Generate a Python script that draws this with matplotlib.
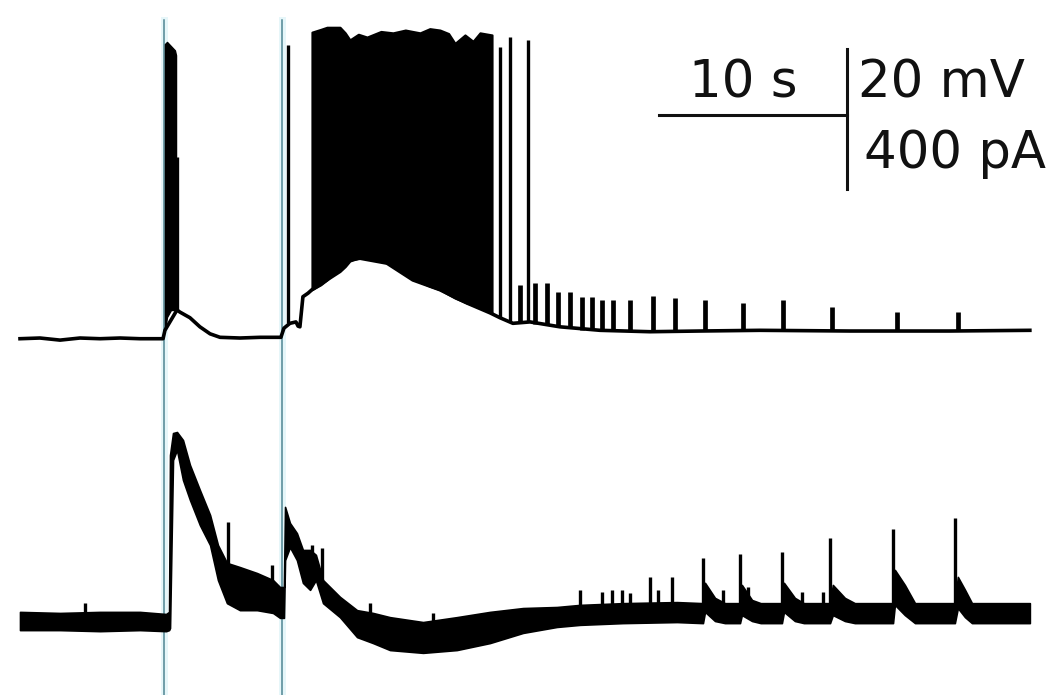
import matplotlib
matplotlib.use("Agg")
import matplotlib.pyplot as plt

# ---------------- data ----------------
# stimulus markers (s)
marker_t = [7.66, 13.94]

# membrane potential: slow trace (s, mV)
vm_t = [0, 1.06, 2.13, 3.19, 4.26, 5.32, 6.38, 7.61, 7.71, 8.35, 8.51, 9.04, 9.57,
        10.11, 10.64, 11.70, 12.77, 13.88, 14.04, 14.36, 14.68, 14.79, 14.89, 15.05,
        15.32, 15.53, 16.33, 17.39, 18.09, 19.52, 20.90, 22.34, 23.78, 25.00, 25.53,
        26.22, 27.13, 28.72, 30.85, 33.51, 36.17, 39.36, 44.15, 49.47, 53.72]
vm_v = [-60.1, -60.0, -60.3, -60.0, -60.1, -60.0, -60.1, -60.1, -58.9, -56.0, -56.3,
        -57.1, -58.4, -59.4, -59.9, -60.0, -59.9, -59.9, -58.6, -57.9, -57.7, -58.3,
        -58.4, -54.1, -53.6, -53.1, -51.7, -48.9, -48.6, -49.3, -51.7, -53.1, -55.0,
        -56.4, -57.1, -57.9, -57.7, -58.4, -58.9, -59.1, -59.0, -58.9, -59.0, -59.0, -58.9]

# first burst (envelope of spikes)
burst_t = [7.71, 7.82, 8.03, 8.24, 8.30]
burst_hi = [-18.0, -17.7, -18.3, -18.9, -19.6]
burst_lo = [-58.9, -57.0, -56.0, -56.0, -56.0]

# sustained firing (envelope of spikes)
train_t = [15.53, 16.00, 16.33, 17.02, 17.30, 17.55, 18.00, 18.46, 19.20, 19.84, 20.50,
           21.28, 21.80, 22.34, 22.80, 23.14, 23.67, 24.10, 24.47, 25.11]
train_hi = [-16.3, -15.9, -15.6, -15.6, -16.4, -17.4, -16.6, -17.0, -16.2, -16.4, -16.0,
            -16.4, -15.8, -16.0, -16.5, -17.9, -16.7, -17.6, -16.4, -16.7]
train_lo = [-53.1, -52.4, -51.7, -50.5, -49.8, -49.0, -48.6, -48.6, -49.0, -49.6, -50.8,
            -52.0, -52.6, -53.1, -53.8, -54.3, -54.9, -55.3, -55.7, -56.4]

# isolated action potentials
ap_t = [8.35, 14.26, 25.53, 26.06, 27.02]
ap_base = [-56.0, -57.8, -57.1, -57.6, -57.7]
ap_peak = [-34.1, -18.1, -18.4, -17.0, -17.4]

# small (subthreshold) events on the voltage trace
ev_t = [26.60, 27.39, 28.03, 28.62, 29.26, 29.89, 30.43, 30.96, 31.54, 32.45,
        33.67, 34.84, 36.44, 38.46, 40.59, 43.19, 46.65, 49.89]
ev_base = [-57.9, -58.0, -58.2, -58.4, -58.6, -58.8, -58.8, -58.9, -58.9, -59.0,
           -59.1, -59.1, -59.0, -58.9, -58.9, -59.0, -59.0, -59.0]
ev_peak = [-52.4, -52.1, -52.1, -53.4, -53.4, -54.1, -54.1, -54.6, -54.6, -54.6,
           -54.0, -54.3, -54.6, -55.0, -54.6, -55.6, -56.3, -56.3]

# current trace: noisy band (s, pA)
im_t = [0, 2.13, 4.26, 6.38, 7.77, 7.93, 7.98, 8.14, 8.35, 8.67, 9.04, 9.57, 10.11,
        10.53, 11.01, 11.70, 12.61, 13.46, 13.83, 14.04, 14.10, 14.36, 14.73, 15.05,
        15.43, 15.74, 16.12, 17.02, 17.93, 18.78, 19.68, 21.44, 23.24, 25.00, 26.76,
        28.56, 29.79, 32.07, 34.95, 36.33, 36.44, 36.97, 37.50, 38.30, 38.40, 38.94,
        39.40, 40.53, 40.64, 41.22, 41.70, 43.09, 43.24, 43.88, 44.41, 46.44, 46.54,
        47.07, 47.61, 49.73, 49.89, 50.27, 50.64, 53.72]
im_hi = [26, 23, 26, 26, 20, 26, 474, 537, 540, 517, 446, 374, 303,
         217, 166, 154, 137, 117, 97, 97, 326, 280, 251, 203,
         203, 189, 117, 69, 31, 23, 11, -3, 11, 26, 37,
         40, 46, 51, 54, 51, 109, 66, 51, 51, 103, 60,
         51, 51, 109, 66, 51, 51, 103, 66, 51, 51, 146,
         103, 51, 51, 126, 89, 51, 51]
im_lo = [-26, -26, -29, -26, -29, -26, -20, 460, 489, 403, 346, 274, 217,
         117, 51, 31, 31, 23, 9, 9, 174, 211, 174, 109,
         89, 117, 51, 11, -46, -63, -83, -91, -83, -63, -34,
         -17, -11, -6, -3, -6, 26, 0, -6, -6, 17, 0,
         -6, -6, 26, 0, -6, -6, 17, 0, -6, -6, 46,
         17, -6, -6, 37, 11, -6, -6]

# fast transients on the current trace
isp_t = [3.46, 11.06, 13.40, 15.53, 16.06, 18.62, 21.97, 29.79, 30.96, 31.49, 32.02,
         32.45, 33.51, 33.94, 34.68, 36.33, 37.39, 38.30, 38.72, 40.53, 41.60, 42.71,
         43.09, 46.44, 49.73]
isp_base = [20, 160, 110, 150, 110, 20, 0, 40, 40, 40, 40,
            40, 45, 45, 45, 50, 50, 50, 50, 50, 50, 50,
            50, 50, 50]
isp_top = [51, 283, 160, 217, 209, 51, 23, 89, 83, 89, 89,
           80, 126, 89, 126, 180, 89, 191, 97, 197, 83, 83,
           237, 263, 294]

# scale bars
bar_t0, bar_len_s = 33.99, 10
bar_v0, bar_len_mv = -38.71, 20
bar_h_v = -28.14
labels = ["10 s", "20 mV", "400 pA"]

# ---------------- drawing ----------------
fig = plt.figure(figsize=(10.62, 6.95), dpi=100)
ax_v = fig.add_axes([0, 0, 1, 1])
ax_i = fig.add_axes([0, 0, 1, 1], sharex=ax_v)
ax_i.patch.set_alpha(0)
for a in (ax_v, ax_i):
    a.axis("off")
ax_v.set_xlim(-1.064, 55.43)
ax_v.set_ylim(-111.0, -11.71)
ax_i.set_ylim(-211.4, 1774.3)

k = "#000000"
for t in marker_t:
    ax_v.axvline(t, ymin=0, ymax=0.971, color="#e6f6f9", lw=5, zorder=1)
    ax_v.axvline(t, ymin=0, ymax=0.971, color="#4f8592", lw=1.1, zorder=2)

ax_v.plot(vm_t, vm_v, color=k, lw=2.6, zorder=3)
ax_v.fill_between(burst_t, burst_lo, burst_hi, color=k, lw=1, zorder=3)
ax_v.fill_between(train_t, train_lo, train_hi, color=k, lw=1.5, zorder=3)
ax_v.vlines(ap_t, ap_base, ap_peak, color=k, lw=2.4, zorder=3)
ax_v.vlines(ev_t, ev_base, ev_peak, color=k, lw=3.4, zorder=3)

ax_i.fill_between(im_t, im_lo, im_hi, color=k, lw=1.2, zorder=3)
ax_i.vlines(isp_t, isp_base, isp_top, color=k, lw=2.4, zorder=3)

# scale bars + labels
tk = "#111111"
ax_v.plot([bar_t0, bar_t0 + bar_len_s], [bar_h_v, bar_h_v], color=tk, lw=2.2)
ax_v.plot([bar_t0 + bar_len_s] * 2, [bar_v0, bar_v0 + bar_len_mv], color=tk, lw=2.2)
fs = 37
ax_v.text(38.46, -25.57, labels[0], ha="center", va="baseline", fontsize=fs, color=tk,
          family="DejaVu Sans")
ax_v.text(44.57, -25.57, labels[1], ha="left", va="baseline", fontsize=fs, color=tk,
          family="DejaVu Sans")
ax_v.text(44.90, -35.71, labels[2], ha="left", va="baseline", fontsize=fs, color=tk,
          family="DejaVu Sans")

fig.savefig("out.png", dpi=100, facecolor="white")
